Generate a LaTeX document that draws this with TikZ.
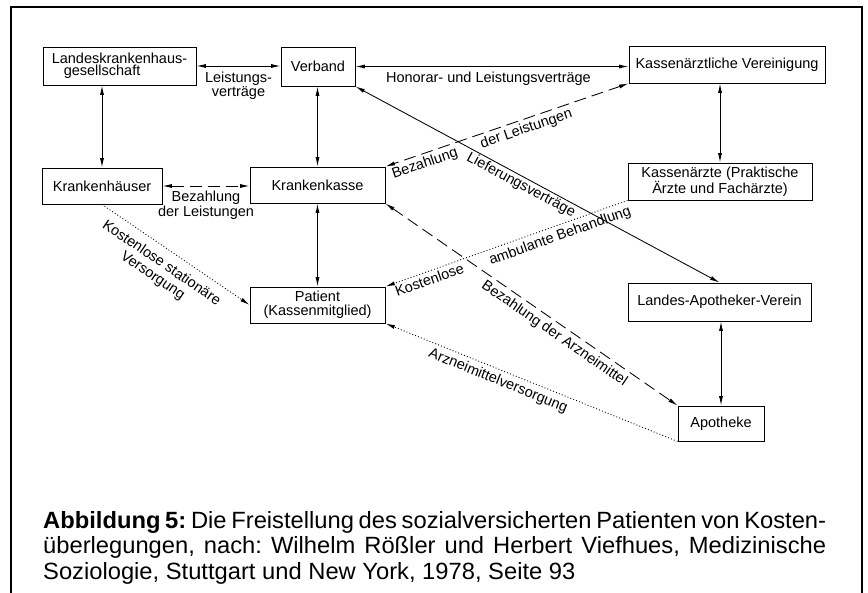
\documentclass[tikz,border=0pt]{standalone}
\usepackage{fontspec}
\setmainfont{Liberation Sans}
\newfontfamily\capfont[FakeStretch=1.01]{Liberation Sans}
\usetikzlibrary{arrows.meta}
\frenchspacing
\tikzset{
  box/.style={draw, line width=0.9pt, inner sep=0pt, align=center, font=\fontsize{14.5}{14}\selectfont},
  lbl/.style={inner sep=1pt, align=center, font=\fontsize{14.5}{14.5}\selectfont},
  conn/.style={line width=0.85pt},
  dsh/.style={dash pattern=on 12pt off 6pt},
  dts/.style={dash pattern=on 0.9pt off 2.2pt, line width=0.9pt},
  frame/.style={line width=1.5pt},
}
\begin{document}
\begin{tikzpicture}[x=1pt,y=-1pt,>={Latex[length=9.5pt,width=4pt]}]
\useasboundingbox (0,0) rectangle (868,593);
\draw[frame] (11,593) -- (11,7) -- (862,7) -- (862,593);

\node[box, minimum width=153pt, minimum height=38pt, align=left, font=\fontsize{14.5}{12.5}\selectfont] (lkg) at (119.5,66) {Landeskrankenhaus-\\\hspace*{12pt}gesellschaft};
\node[box, minimum width=74pt, minimum height=39pt] (vb) at (318,66.5) {Verband};
\node[box, minimum width=196pt, minimum height=37pt] (kv) at (727,64.5) {Kassenärztliche Vereinigung};
\node[box, minimum width=184pt, minimum height=37pt] (kae) at (720,181.5) {Kassenärzte (Praktische\\Ärzte und Fachärzte)};
\node[box, minimum width=120pt, minimum height=36pt] (kh) at (102,186) {Krankenhäuser};
\node[box, minimum width=135pt, minimum height=36pt] (kk) at (317.5,185) {Krankenkasse};
\node[box, minimum width=135pt, minimum height=36pt] (pat) at (317.5,305) {Patient\\(Kassenmitglied)};
\node[box, minimum width=183pt, minimum height=38pt] (lav) at (719.5,302) {Landes-Apotheker-Verein};
\node[box, minimum width=86pt, minimum height=35pt] (apo) at (721,423.5) {Apotheke};

\draw[conn,<->] (lkg.east) -- (lkg.east -| vb.west) node[lbl, midway, below=5pt, font=\fontsize{14.5}{12.5}\selectfont] {Leistungs-\\verträge};
\draw[conn,<->] (vb.east) -- (vb.east -| kv.west) node[lbl, pos=0.487, below=4.5pt] {Honorar- und Leistungsverträge};
\draw[conn,<->] (kh.north |- lkg.south) -- (kh.north);
\draw[conn,<->] (kk.north |- vb.south) -- (kk.north);
\draw[conn,<->] (kk.south) -- (pat.north);
\draw[conn,<->] (kae.north |- kv.south) -- (kae.north);
\draw[conn,<->] (apo.north |- lav.south) -- (apo.north);

\draw[conn,dsh,<->] (kh.east) -- (kh.east -| kk.west) node[lbl, midway, below=4pt, font=\fontsize{14.5}{13.5}\selectfont] {Bezahlung\\der Leistungen};
\draw[conn,dsh,<->] (kv.south west) -- (kk.north east)
  node[lbl, sloped, pos=0.434, below=2pt] {der Leistungen}
  node[lbl, sloped, pos=0.851, below=2pt] {Bezahlung};
\draw[conn,<->] (vb.south east) -- (lav.north)
  node[lbl, sloped, pos=0.466, below=0.5pt] {Lieferungsverträge};
\draw[conn,dsh,<->] (kk.south east) -- (apo.north west)
  node[lbl, sloped, pos=0.6, below=3pt] {Bezahlung der Arzneimittel};
\draw[conn,dts,->] (kae.south west) -- (pat.north east)
  node[lbl, sloped, pos=0.294, below=3pt] {ambulante Behandlung}
  node[lbl, sloped, pos=0.83, below=1.5pt] {Kostenlose};
\draw[conn,dts,->] (apo.south west) -- (pat.south east)
  node[lbl, sloped, pos=0.6, below=3pt] {Arzneimittelversorgung};
\draw[conn,dts,->] (kh.south) -- (pat.west)
  node[lbl, sloped, pos=0.46, below=7pt, font=\fontsize{14.5}{15.5}\selectfont] {Kostenlose stationäre\\Versorgung};

\node[anchor=north west, align=left, inner sep=0pt, font=\capfont\fontsize{23.5}{25.5}\selectfont] (cap) at (43,511)
{\makebox[783pt][s]{\textbf{Abbildung 5:} Die Freistellung des sozialversicherten Patienten von Kosten-}\\
\makebox[783pt][s]{überlegungen, nach: Wilhelm Rößler und Herbert Viefhues, Medizinische}\\
Soziologie, Stuttgart und New York, 1978, Seite 93};
\end{tikzpicture}
\end{document}
